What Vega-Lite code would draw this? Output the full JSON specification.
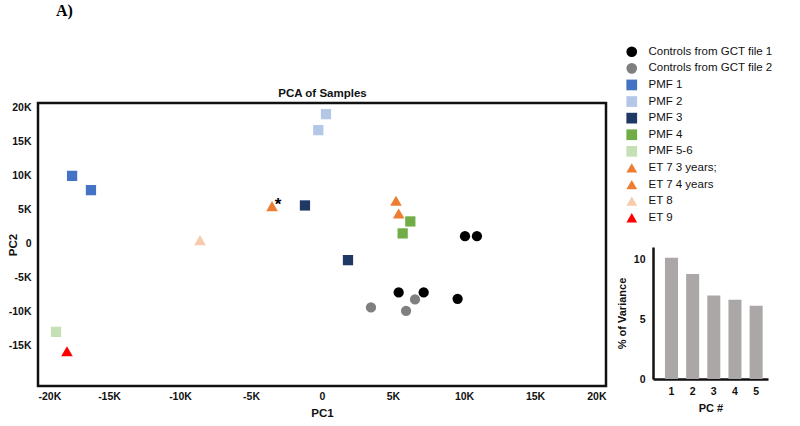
{
  "$schema": "https://vega.github.io/schema/vega-lite/v6.json",
  "padding": {"left": 5, "top": 1, "right": 0, "bottom": 0},
  "background": "white",
  "config": {
    "font": "Liberation Sans",
    "view": {"stroke": null},
    "axis": {"labelFont": "Liberation Sans", "titleFont": "Liberation Sans", "labelFontWeight": "bold", "titleFontWeight": "bold", "labelColor": "#111", "titleColor": "#111", "grid": false, "ticks": false}
  },
  "datasets": {
    "samples": [
      {"group": "Controls from GCT file 1", "pc1": 5400, "pc2": -7250},
      {"group": "Controls from GCT file 1", "pc1": 7160, "pc2": -7250},
      {"group": "Controls from GCT file 1", "pc1": 9550, "pc2": -8190},
      {"group": "Controls from GCT file 1", "pc1": 10070, "pc2": 1030},
      {"group": "Controls from GCT file 1", "pc1": 10910, "pc2": 1030},
      {"group": "Controls from GCT file 2", "pc1": 3450, "pc2": -9450},
      {"group": "Controls from GCT file 2", "pc1": 5920, "pc2": -9950},
      {"group": "Controls from GCT file 2", "pc1": 6550, "pc2": -8280},
      {"group": "PMF 1", "pc1": -17600, "pc2": 9890},
      {"group": "PMF 1", "pc1": -16270, "pc2": 7790},
      {"group": "PMF 2", "pc1": 280, "pc2": 18960},
      {"group": "PMF 2", "pc1": -260, "pc2": 16610},
      {"group": "PMF 3", "pc1": -1200, "pc2": 5540},
      {"group": "PMF 3", "pc1": 1830, "pc2": -2500},
      {"group": "PMF 4", "pc1": 6220, "pc2": 3190},
      {"group": "PMF 4", "pc1": 5680, "pc2": 1430},
      {"group": "PMF 5-6", "pc1": -18730, "pc2": -13040},
      {"group": "ET 7  3 years;", "pc1": -3520, "pc2": 5440},
      {"group": "ET 7  4 years", "pc1": 5210, "pc2": 6220},
      {"group": "ET 7  4 years", "pc1": 5400, "pc2": 4370},
      {"group": "ET 8", "pc1": -8590, "pc2": 440},
      {"group": "ET 9", "pc1": -17960, "pc2": -15880}
    ],
    "variance": [
      {"pc": "1", "pct": 10.1},
      {"pc": "2", "pct": 8.75},
      {"pc": "3", "pct": 6.95},
      {"pc": "4", "pct": 6.6},
      {"pc": "5", "pct": 6.1}
    ],
    "blank": []
  },
  "hconcat": [
    {
      "width": 568,
      "height": 283,
      "title": {"text": "A)", "anchor": "start", "frame": "group", "dx": 18, "offset": 68, "font": "Liberation Serif", "fontSize": 16, "fontWeight": "bold", "color": "#000"},
      "view": {"stroke": "#111", "strokeWidth": 2.5},
      "data": {"name": "samples"},
      "layer": [
        {
          "mark": {"type": "point", "filled": true, "opacity": 1},
          "encoding": {
            "x": {"field": "pc1", "type": "quantitative", "scale": {"domain": [-20000, 20000], "nice": false, "zero": false},
              "axis": {"orient": "bottom", "title": "PC1", "values": [-20000, -15000, -10000, -5000, 0, 5000, 10000, 15000, 20000], "labelExpr": "datum.value == 0 ? '0' : (datum.value / 1000) + 'K'", "domain": false, "labelFontSize": 10.5, "labelPadding": 5, "titleFontSize": 11.5, "titlePadding": 6}},
            "y": {"field": "pc2", "type": "quantitative", "scale": {"domain": [-21000, 20600], "nice": false, "zero": false},
              "axis": {"title": "PC2", "values": [-15000, -10000, -5000, 0, 5000, 10000, 15000, 20000], "labelExpr": "datum.value == 0 ? '0' : (datum.value / 1000) + 'K'", "domain": false, "labelFontSize": 10.5, "labelPadding": 7, "titleFontSize": 11.5, "titlePadding": -10}},
            "color": {"field": "group", "type": "nominal",
              "scale": {"domain": ["Controls from GCT file 1", "Controls from GCT file 2", "PMF 1", "PMF 2", "PMF 3", "PMF 4", "PMF 5-6", "ET 7  3 years;", "ET 7  4 years", "ET 8", "ET 9"],
                "range": ["#000000", "#7f7f7f", "#4472c4", "#b4c7e7", "#1f3864", "#70ad47", "#c5e0b4", "#ed7d31", "#ed7d31", "#f8cbad", "#ff0000"]},
              "legend": {"title": null, "orient": "none", "legendX": 588, "legendY": -57, "labelFontSize": 11.5, "labelColor": "#111", "labelOffset": 11, "rowPadding": 3.6, "symbolSize": 115, "symbolStrokeWidth": 0, "padding": 0}},
            "shape": {"field": "group", "type": "nominal",
              "scale": {"domain": ["Controls from GCT file 1", "Controls from GCT file 2", "PMF 1", "PMF 2", "PMF 3", "PMF 4", "PMF 5-6", "ET 7  3 years;", "ET 7  4 years", "ET 8", "ET 9"],
                "range": ["circle", "circle", "square", "square", "square", "square", "square", "triangle-up", "triangle-up", "triangle-up", "triangle-up"]},
              "legend": {"title": null, "orient": "none", "legendX": 588, "legendY": -57, "labelFontSize": 11.5, "labelColor": "#111", "labelOffset": 11, "rowPadding": 3.6, "symbolSize": 115, "symbolStrokeWidth": 0, "padding": 0}},
            "size": {"condition": {"test": "indexof(datum.group, 'ET') == 0", "value": 135}, "value": 105}
          }
        },
        {
          "transform": [{"filter": "datum.group == 'ET 7  3 years;'"}],
          "mark": {"type": "text", "text": "*", "dx": 6, "dy": -1, "fontSize": 17, "fontWeight": "bold", "color": "#000"},
          "encoding": {
            "x": {"field": "pc1", "type": "quantitative",
              "axis": {"orient": "top", "title": "PCA of Samples", "labels": false, "domain": false, "ticks": false, "titleFontSize": 11.5, "titlePadding": 5}},
            "y": {"field": "pc2", "type": "quantitative"}
          }
        }
      ],
      "resolve": {"axis": {"x": "independent", "y": "shared"}}
    },
    {
      "spacing": 0,
      "vconcat": [
        {
          "width": 1,
          "height": 144,
          "data": {"name": "blank"},
          "mark": {"type": "point"},
          "encoding": {}
        },
        {
          "width": 115,
          "height": 132,
          "data": {"name": "variance"},
          "mark": {"type": "bar", "color": "#aca7a7"},
          "encoding": {
            "x": {"field": "pc", "type": "ordinal", "scale": {"paddingInner": 0.384, "paddingOuter": 0.41, "align": 0.69},
              "axis": {"title": "PC #", "labelAngle": 0, "domainColor": "#111", "domainWidth": 2.5, "labelFontSize": 10.5, "labelPadding": 7, "titleFontSize": 11, "titlePadding": 6}},
            "y": {"field": "pct", "type": "quantitative", "scale": {"domain": [0, 11], "nice": false},
              "axis": {"title": "% of Variance", "values": [0, 5, 10], "domainColor": "#111", "domainWidth": 2.5, "labelFontSize": 10.5, "labelPadding": 8, "titleFontSize": 11, "titlePadding": 6}}
          }
        }
      ]
    }
  ],
  "spacing": 8
}
